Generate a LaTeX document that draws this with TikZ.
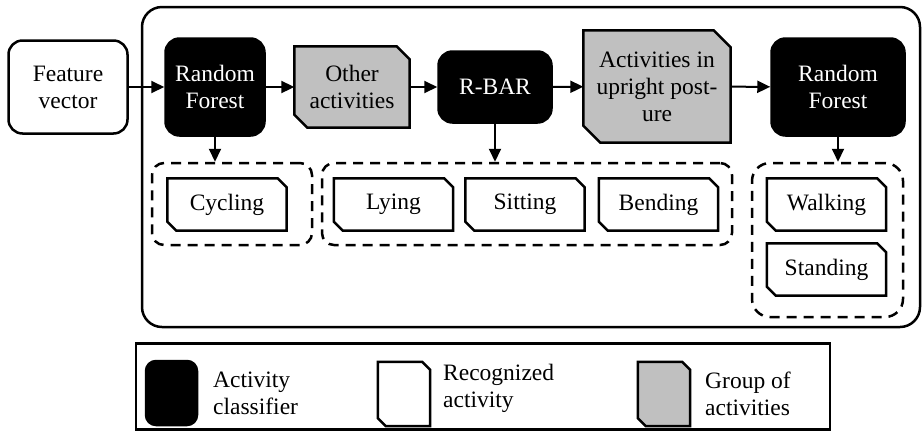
\documentclass[tikz,border=0pt]{standalone}
\usepackage{fontspec}
\setmainfont{Liberation Serif}
\usetikzlibrary{arrows.meta,backgrounds}
\definecolor{grp}{RGB}{192,192,192}
\newcommand\chamfbox[3]{%
  \filldraw[fill=#3, draw=black, line width=2.5pt, line join=miter]
    (#1.north west) -- ([xshift=-#2]#1.north east) -- ([yshift=-#2]#1.north east)
    -- (#1.south east) -- ([xshift=#2]#1.south west) -- ([yshift=#2]#1.south west) -- cycle;}
\begin{document}
\begin{tikzpicture}[x=1pt,y=-1pt,
  every node/.style={font=\fontsize{23.5}{27}\selectfont, align=center, inner sep=0pt},
  cls/.style={rectangle, rounded corners=14pt, fill=black, draw=black, line width=2.5pt, text=white},
  chnode/.style={rectangle},
  rec/.style={chnode, minimum width=119pt, minimum height=52pt},
  grpdash/.style={draw, dash pattern=on 10pt off 7pt, line width=2.5pt, rounded corners=12pt},
  arr/.style={-{Triangle[length=13pt,width=12pt]}, line width=2pt},
  legtext/.style={anchor=west, align=left}]
\useasboundingbox (0,0) rectangle (923,432);

% outer container
\node[draw, line width=2.5pt, rounded corners=20pt, minimum width=778pt, minimum height=320pt] (outer) at (531,167) {};

% top row
\node[draw, line width=2.5pt, rounded corners=14pt, minimum width=119pt, minimum height=93pt] (feat) at (68,87) {Feature\\vector};
\node[cls, minimum width=99pt, minimum height=97pt] (rf1) at (215,87) {Random\\Forest};
\node[chnode, minimum width=115pt, minimum height=81pt] (other) at (352,87) {Other\\activities};
\node[cls, minimum width=113pt, minimum height=71pt] (rbar) at (495,87) {R-BAR};
\node[chnode, minimum width=147pt, minimum height=112pt] (upright) at (657,86.5) {Activities in\\upright post-\\ure};
\node[cls, minimum width=133pt, minimum height=97pt] (rf2) at (838,87) {Random\\Forest};

% dashed groups
\node[grpdash, minimum width=160pt, minimum height=82pt] (g1) at (232,204) {};
\node[grpdash, minimum width=410pt, minimum height=82pt] (g2) at (527,204) {};
\node[grpdash, rounded corners=18pt, minimum width=151pt, minimum height=154pt] (g3) at (827.5,240) {};

% recognized activities
\node[rec] (cyc) at (227,204.5) {Cycling};
\node[rec] (lying) at (393.5,204.5) {Lying};
\node[rec] (sit) at (525,204.5) {Sitting};
\node[rec] (bend) at (658.5,204.5) {Bending};
\node[rec] (walk) at (826.5,204.5) {Walking};
\node[rec] (stand) at (826.5,269.5) {Standing};

% connectors
\draw[arr] (feat) -- (rf1);
\draw[arr] (rf1) -- (other);
\draw[arr] (other) -- (rbar);
\draw[arr] (rbar) -- (upright);
\draw[arr] (upright) -- (rf2);
\draw[arr] (rf1.south) -- (rf1.south |- g1.north);
\draw[arr] (rbar.south) -- (rbar.south |- g2.north);
\draw[arr] (rf2.south) -- (rf2.south |- g3.north);

% legend
\node[draw, line width=2.5pt, minimum width=694pt, minimum height=86pt] (legend) at (483,386.5) {};
\node[cls, rounded corners=10pt, minimum width=51pt, minimum height=64pt] (lcls) at (171.5,393) {};
\node[legtext] (tcls) at (213,393) {Activity\\classifier};
\node[chnode, minimum width=52pt, minimum height=64pt] (lrec) at (404,394) {};
\node[legtext] (trec) at (443,388) {Recognized\\activity};
\node[chnode, minimum width=52pt, minimum height=64pt] (lgrp) at (664,394) {};
\node[legtext] (tgrp) at (705,394) {Group of\\activities};

\begin{scope}[on background layer]
  \chamfbox{other}{13pt}{grp}
  \chamfbox{upright}{17pt}{grp}
  \chamfbox{cyc}{9pt}{white}
  \chamfbox{lying}{9pt}{white}
  \chamfbox{sit}{9pt}{white}
  \chamfbox{bend}{9pt}{white}
  \chamfbox{walk}{9pt}{white}
  \chamfbox{stand}{9pt}{white}
  \chamfbox{lrec}{8pt}{white}
  \chamfbox{lgrp}{8pt}{grp}
\end{scope}
\end{tikzpicture}
\end{document}
